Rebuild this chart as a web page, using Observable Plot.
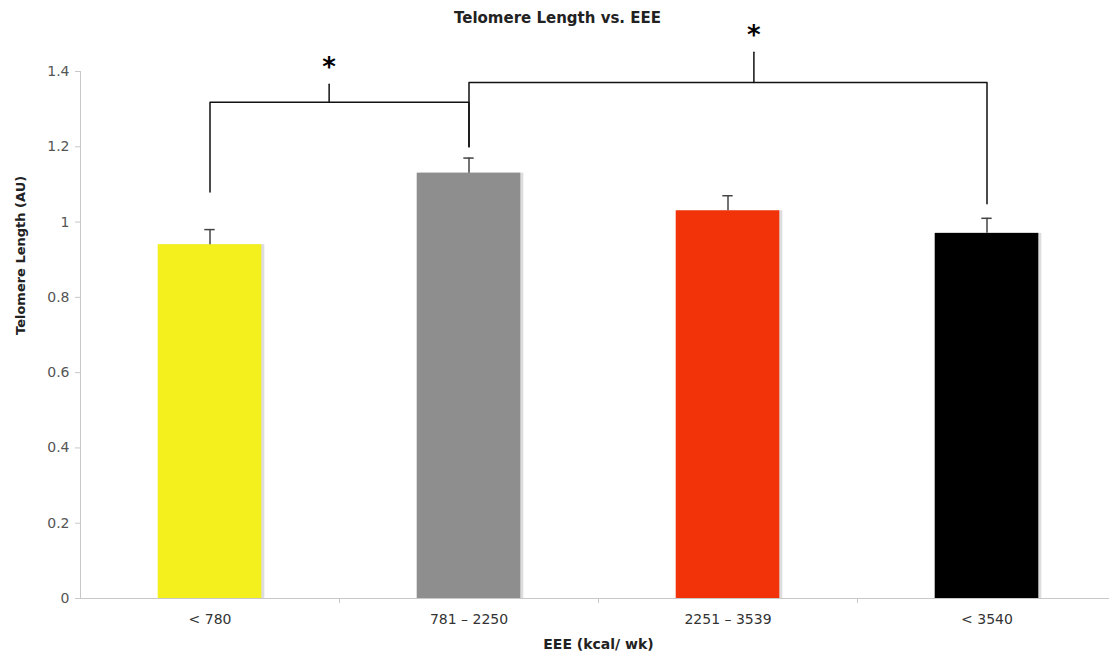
<!DOCTYPE html>
<html>
<head>
<meta charset="utf-8">
<script src="https://cdn.jsdelivr.net/npm/d3@7"></script>
<script src="https://cdn.jsdelivr.net/npm/@observablehq/plot@0.6"></script>
<style>
  body { margin: 0; background: #fff; font-family: "DejaVu Sans", Verdana, sans-serif; }
  #title { height: 36px; line-height: 36px; text-align: center; font-weight: bold; font-size: 15px; color: #222; padding-left: 6px; }
  #chart svg { overflow: visible; }
</style>
</head>
<body>
<div id="title">Telomere Length vs. EEE</div>
<div id="chart"></div>
<script>
// EEE groups and mean telomere length with upper error
const categories = ["< 780", "781 – 2250", "2251 – 3539", "< 3540"];
const means = [0.94, 1.13, 1.03, 0.97];
const errors = [0.04, 0.04, 0.04, 0.04];
const colors = ["#f4f01e", "#8e8e8e", "#f23208", "#000000"];
const yTicks = [0, 0.2, 0.4, 0.6, 0.8, 1.0, 1.2, 1.4];

// significance brackets as (group index, value) paths
const bracketLow = [[0, 1.08], [0, 1.318], [1, 1.318], [1, 1.20]];
const bracketHigh = [[1, 1.20], [1, 1.371], [3, 1.371], [3, 1.049]];
const starTicks = [
  [[0.46, 1.318], [0.46, 1.366]],
  [[2.10, 1.371], [2.10, 1.451]]
];
const stars = [[0.46, 1.41], [2.10, 1.495]];

const data = categories.map((c, i) => ({i, c, mean: means[i], err: errors[i], color: colors[i]}));
const bw = 0.2;   // half bar width, in group units
const cap = 0.02; // half error-cap width

const chart = Plot.plot({
  width: 1109,
  height: 620,
  marginTop: 35,
  marginBottom: 58,
  marginLeft: 80,
  marginRight: 0,
  style: {fontFamily: "DejaVu Sans, Verdana, sans-serif", fontSize: "14px", background: "#fff"},
  x: {type: "linear", domain: [-0.5, 3.5], range: [80, 1116]},
  y: {type: "linear", domain: [0, 1.4]},
  marks: [
    // axis lines
    Plot.ruleX([-0.5], {y1: 0, y2: 1.4, stroke: "#c8c8c8"}),
    Plot.ruleY([0], {x1: -0.5, x2: 3.5, stroke: "#c8c8c8"}),
    Plot.axisY({ticks: yTicks, tickSize: 5, tickPadding: 6, stroke: "#c8c8c8", fill: "#555",
      tickFormat: d => String(Math.round(d * 10) / 10), label: null}),
    Plot.axisX({ticks: [0.5, 1.5, 2.5], tickSize: 5, stroke: "#c8c8c8", tickFormat: () => "", label: null}),
    Plot.axisX({ticks: [0, 1, 2, 3], tickSize: 0, tickPadding: 16, fill: "#333",
      tickFormat: i => categories[i], label: null}),
    // soft shadow to the right of each bar
    Plot.rectY(data, {x1: d => d.i - bw, x2: d => d.i + bw, y1: 0, y2: "mean", fill: "#bbb", opacity: 0.5, dx: 3}),
    // bars
    Plot.rectY(data, {x1: d => d.i - bw, x2: d => d.i + bw, y1: 0, y2: "mean", fill: "color"}),
    // upper error bars
    Plot.ruleX(data, {x: "i", y1: "mean", y2: d => d.mean + d.err, stroke: "#444", strokeWidth: 1.5}),
    Plot.ruleY(data, {y: d => d.mean + d.err, x1: d => d.i - cap, x2: d => d.i + cap, stroke: "#444", strokeWidth: 1.5}),
    // significance brackets
    Plot.line(bracketLow, {x: d => d[0], y: d => d[1], stroke: "#111", strokeWidth: 1.5}),
    Plot.line(bracketHigh, {x: d => d[0], y: d => d[1], stroke: "#111", strokeWidth: 1.5}),
    ...starTicks.map(t => Plot.line(t, {x: d => d[0], y: d => d[1], stroke: "#111", strokeWidth: 1.5})),
    Plot.text(stars, {x: d => d[0], y: d => d[1], text: () => "*", fontSize: 26, fontWeight: "bold", fill: "#000", lineAnchor: "middle", dy: 0}),
    // axis titles
    Plot.text(["Telomere Length (AU)"], {frameAnchor: "left", rotate: -90, dx: -60, fontWeight: "bold", fontSize: 13, fill: "#222"}),
    Plot.text(["EEE (kcal/ wk)"], {x: [1.5], frameAnchor: "bottom", dy: 50, fontWeight: "bold", fontSize: 14, fill: "#222"})
  ]
});
document.getElementById("chart").appendChild(chart);
</script>
</body>
</html>
